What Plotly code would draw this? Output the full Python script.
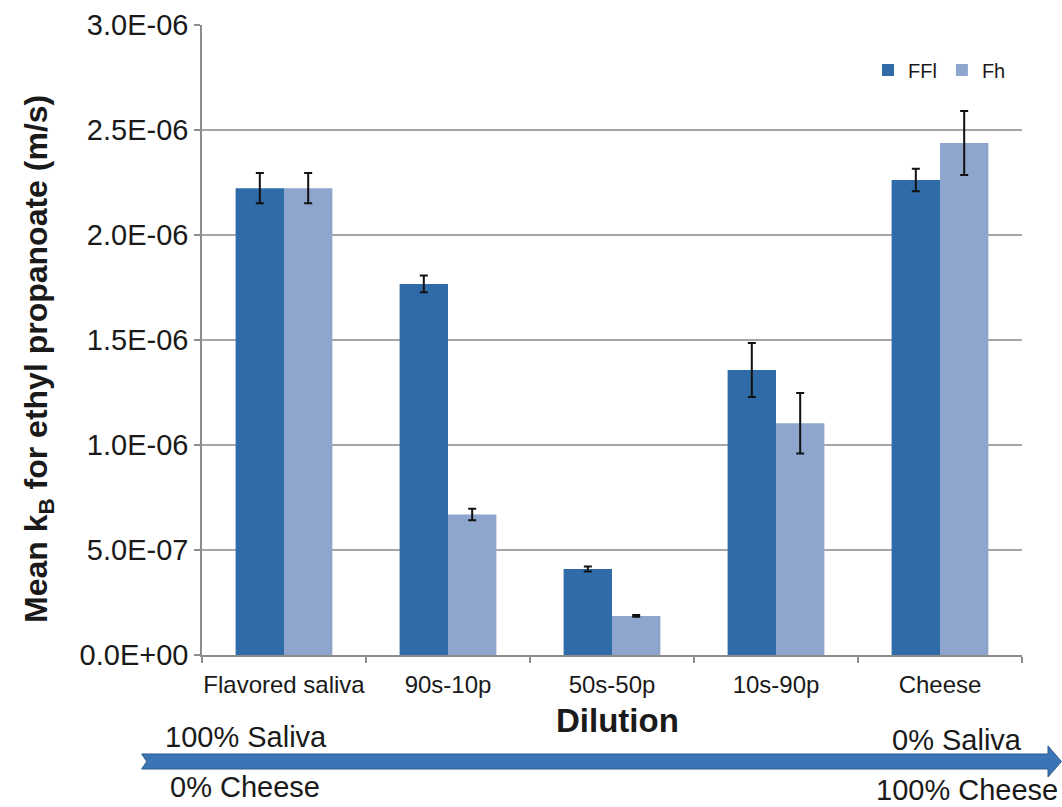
import plotly.graph_objects as go

categories = ["Flavored saliva", "90s-10p", "50s-50p", "10s-90p", "Cheese"]
ffl_values = [2.223e-6, 1.767e-6, 0.410e-6, 1.357e-6, 2.262e-6]
ffl_errors = [0.072e-6, 0.040e-6, 0.012e-6, 0.129e-6, 0.054e-6]
fh_values = [2.223e-6, 0.669e-6, 0.186e-6, 1.104e-6, 2.438e-6]
fh_errors = [0.072e-6, 0.027e-6, 0.004e-6, 0.144e-6, 0.152e-6]
y_tick_values = [0, 0.5e-6, 1.0e-6, 1.5e-6, 2.0e-6, 2.5e-6, 3.0e-6]
y_tick_labels = ["0.0E+00", "5.0E-07", "1.0E-06", "1.5E-06", "2.0E-06", "2.5E-06", "3.0E-06"]
series_names = ["FFl", "Fh"]

FONT = "Liberation Sans"
C1 = "#2E6BA8"
C2 = "#8EA6CE"

fig = go.Figure()
fig.add_trace(go.Bar(
    x=categories, y=ffl_values, name=series_names[0],
    marker=dict(color=C1, line=dict(width=0)),
    error_y=dict(type="data", array=ffl_errors, visible=True, color="#111111", thickness=2, width=4),
))
fig.add_trace(go.Bar(
    x=categories, y=fh_values, name=series_names[1],
    marker=dict(color=C2, line=dict(width=0)),
    error_y=dict(type="data", array=fh_errors, visible=True, color="#111111", thickness=2, width=4),
))

W, H = 1062, 807
L, R, T, B = 202, 1022, 25, 655
def px(x):
    return (x - L) / (R - L)
def py(y):
    return (B - y) / (B - T)

fig.update_layout(
    width=W, height=H,
    margin=dict(l=L, r=W - R, t=T, b=H - B, autoexpand=False),
    paper_bgcolor="white", plot_bgcolor="white",
    barmode="group", bargap=0.41, bargroupgap=0,
    font=dict(family=FONT, color="#1a1a1a"),
    showlegend=True,
    legend=dict(orientation="h", x=px(868), y=py(70), xanchor="left", yanchor="middle",
                font=dict(size=20, family=FONT), itemwidth=30, bgcolor="rgba(0,0,0,0)",
                traceorder="normal"),
    xaxis=dict(
        type="category", showline=True, linecolor="#8c8c8c", linewidth=1.5,
        ticks="outside", tickson="boundaries", ticklen=6, tickcolor="#8c8c8c", tickwidth=1.5,
        tickfont=dict(size=24, family=FONT, color="#1a1a1a"), showgrid=False,
        tickangle=0, ticklabelstandoff=7, automargin=False,
    ),
    yaxis=dict(
        range=[0, 3.0e-6], tickvals=y_tick_values, ticktext=y_tick_labels,
        showline=True, linecolor="#8c8c8c", linewidth=1.5,
        ticks="outside", ticklen=6, tickcolor="#8c8c8c", tickwidth=1.5,
        showgrid=True, gridcolor="#a6a6a6", gridwidth=1.5,
        tickfont=dict(size=29, family=FONT, color="#1a1a1a"),
        zeroline=False, automargin=False,
    ),
)

ann = []
ann.append(dict(text="Mean k<sub>B</sub> for ethyl propanoate (m/s)", xref="paper", yref="paper",
                x=px(38), y=py(359), textangle=-90, showarrow=False, xanchor="center", yanchor="middle",
                font=dict(size=32, family=FONT, color="#1a1a1a", weight="bold")))
ann.append(dict(text="<b>Dilution</b>", xref="paper", yref="paper", x=px(617), y=py(720),
                showarrow=False, xanchor="center", yanchor="middle",
                font=dict(size=33, family=FONT, color="#1a1a1a")))
ann.append(dict(text="100% Saliva", xref="paper", yref="paper", x=px(163), y=py(737),
                showarrow=False, xanchor="left", yanchor="middle", font=dict(size=29, family=FONT, color="#1a1a1a")))
ann.append(dict(text="0% Cheese", xref="paper", yref="paper", x=px(168), y=py(787),
                showarrow=False, xanchor="left", yanchor="middle", font=dict(size=29, family=FONT, color="#1a1a1a")))
ann.append(dict(text="0% Saliva", xref="paper", yref="paper", x=px(1024), y=py(740),
                showarrow=False, xanchor="right", yanchor="middle", font=dict(size=29, family=FONT, color="#1a1a1a")))
ann.append(dict(text="100% Cheese", xref="paper", yref="paper", x=px(1060), y=py(790),
                showarrow=False, xanchor="right", yanchor="middle", font=dict(size=29, family=FONT, color="#1a1a1a")))
fig.update_layout(annotations=ann)

pts = [(141.7, 754), (146.7, 761.5), (141.7, 769), (1048, 769), (1048, 777), (1061.5, 761.5),
       (1048, 746), (1048, 754)]
path = "M " + " L ".join(f"{px(x):.5f},{py(y):.5f}" for x, y in pts) + " Z"
fig.add_shape(type="path", path=path, xref="paper", yref="paper",
              fillcolor="#3B75B5", line=dict(color="#2C5A8C", width=1), layer="above")

fig.write_html("out.html", config={"displayModeBar": False},
               post_script="document.body.style.margin='0';document.body.style.padding='0';document.body.style.overflow='hidden';")
